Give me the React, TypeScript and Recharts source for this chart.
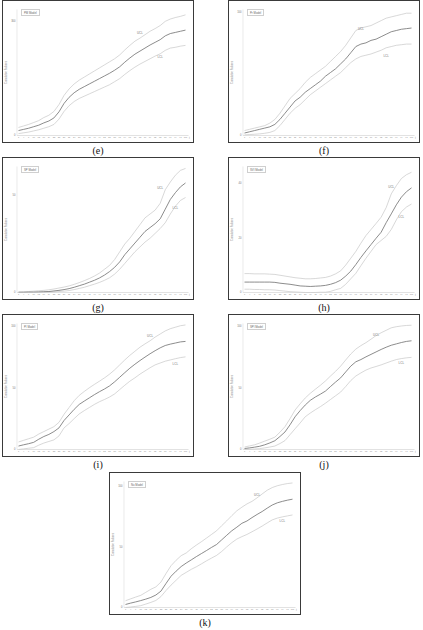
import React from 'react';
import { LineChart, Line, XAxis, YAxis, ReferenceDot } from 'recharts';

// sample index (x axis categories)
const xLabels = [1, 4, 7, 10, 13, 16, 19, 22, 25, 28, 31, 34, 37, 40, 43, 46, 49, 52, 55, 58, 61, 64, 67, 70, 73, 76, 79, 82, 85, 88, 91, 94, 97, 100];

// (e)
const eCenter = [13, 16, 19, 23, 27, 33, 38, 46, 62, 84, 100, 112, 121, 128, 135, 142, 149, 156, 163, 171, 180, 192, 203, 213, 221, 229, 237, 244, 251, 261, 267, 270, 273, 276];
const eUcl = [21, 25, 29, 34, 39, 47, 53, 63, 81, 105, 122, 135, 145, 153, 161, 169, 177, 185, 193, 201, 211, 224, 236, 247, 255, 264, 273, 280, 288, 299, 305, 309, 312, 316];
const eLcl = [5, 7, 9, 12, 15, 19, 23, 29, 43, 63, 78, 89, 97, 103, 109, 115, 121, 127, 133, 141, 149, 160, 170, 179, 187, 194, 201, 208, 214, 223, 229, 231, 234, 236];

// (f)
const fCenter = [2, 3, 4, 5, 6, 7, 9, 13, 18, 23, 28, 31, 35, 38, 41, 44, 48, 51, 54, 58, 62, 67, 72, 74, 75, 77, 78, 80, 82, 84, 85, 86, 86.5, 87];
const fUcl = [4, 5, 6, 7, 8, 10, 13, 18, 24, 30, 34, 38, 43, 47, 50, 53, 56, 60, 64, 68, 73, 79, 85, 87, 88, 89, 91, 93, 95, 96, 97, 98, 99, 99];
const fLcl = [0.5, 0.8, 1, 1.3, 1.8, 2.5, 4, 8, 13, 18, 22, 25, 29, 33, 36, 39, 42, 45, 48, 51, 55, 59, 62, 64, 65, 66, 67.5, 69, 71, 72, 73, 73.5, 74, 74];

// (g)
const gCenter = [0.1, 0.1, 0.2, 0.2, 0.3, 0.4, 0.5, 0.8, 1.1, 1.5, 2, 2.7, 3.5, 4.3, 5.3, 6.3, 7.5, 9, 10.8, 13, 15.8, 19.5, 22.5, 25.5, 28.5, 31.5, 33.5, 35.5, 38, 43, 48, 51.5, 54.5, 56.5];
const gUcl = [0.3, 0.4, 0.5, 0.7, 0.9, 1.1, 1.4, 1.8, 2.3, 2.8, 3.4, 4.2, 5.1, 6.1, 7.2, 8.5, 10, 12, 14, 17, 21, 25, 28, 31.5, 35, 38.5, 40.5, 42.5, 46, 53, 57, 60.5, 63, 64];
const gLcl = [0, 0, 0, 0, 0, 0.1, 0.2, 0.3, 0.5, 0.7, 1, 1.5, 2.1, 2.7, 3.5, 4.3, 5.2, 6.3, 7.6, 9.5, 12, 15, 18, 21, 23.5, 26, 28, 30.5, 33, 36, 40.5, 44.5, 47.5, 49];

// (h)
const hCenter = [3.8, 3.8, 3.8, 3.8, 3.8, 3.8, 3.7, 3.4, 3.2, 3.0, 2.7, 2.4, 2.3, 2.2, 2.3, 2.4, 2.6, 3.0, 3.6, 4.5, 6, 7.8, 10.2, 12.8, 15.2, 17.5, 19.8, 22, 25.5, 28.7, 32, 34.8, 36.8, 38.2];
const hUcl = [6.9, 6.9, 6.8, 6.8, 6.8, 6.7, 6.6, 6.3, 6.0, 5.7, 5.4, 5.2, 5.0, 5.0, 5.1, 5.3, 5.5, 6.0, 6.8, 7.9, 10, 12.5, 15, 18, 20.8, 23, 25.2, 27.5, 31, 36, 39, 41.6, 43, 43.9];
const hLcl = [1.2, 1.2, 1.1, 1.1, 1.0, 1.0, 0.9, 0.7, 0.5, 0.3, 0.2, 0.1, 0, 0, 0, 0.1, 0.1, 0.4, 1.0, 1.5, 3, 5, 7, 9.8, 12.5, 15, 17.5, 19, 20.5, 23, 26.5, 29.5, 31.2, 32.3];

// (i)
const iCenter = [2.8, 3.8, 4.7, 5.8, 8.3, 10.5, 12.2, 14.5, 17.5, 23.5, 28, 32.5, 36.5, 39.2, 41.8, 44.4, 46.8, 49, 51.5, 54.8, 58.5, 62.2, 65.8, 69, 72, 74.8, 77.5, 80, 82.3, 84.2, 85.3, 86.2, 87.1, 87.5];
const iUcl = [6.1, 7.4, 8.7, 10, 12.5, 14.5, 16.5, 18.5, 22, 28.5, 34, 39.5, 43.8, 47, 50, 52.7, 55.3, 58, 61, 64.5, 68.5, 72.5, 76.2, 79.5, 82.8, 85.5, 88, 91, 93.5, 96, 97.8, 99, 100.2, 100.8];
const iLcl = [0, 0.5, 1.0, 1.5, 3.5, 5.2, 6.5, 7.8, 11, 17.5, 21, 25, 28.8, 31.5, 34, 36.5, 38.7, 40.5, 42.5, 45, 48.5, 52, 55.3, 58, 61, 63.6, 66.2, 68.5, 70, 71.5, 72.5, 73.5, 74.4, 75];

// (j)
const jCenter = [0.8, 1.3, 1.9, 2.6, 3.8, 5.3, 7.1, 10.5, 14.2, 20, 26.5, 31.5, 36, 39.8, 42.5, 44.8, 47.3, 51, 54.6, 58, 62.8, 67.5, 71, 72.8, 75, 77, 79, 81, 82.8, 84.4, 85.5, 86.6, 87.5, 88];
const jUcl = [2, 2.9, 3.8, 5.2, 6.8, 8.3, 10, 14, 18.5, 25, 32, 37, 41.7, 45.5, 48.8, 52, 55.5, 59.5, 63.3, 67.5, 72.5, 77.3, 81.3, 84.1, 86.5, 89.3, 92.2, 94.5, 96.5, 98.5, 99.4, 100, 100.4, 100.6];
const jLcl = [0, 0.2, 0.4, 0.7, 1.3, 2, 2.8, 4.8, 7.2, 12, 16.8, 21.5, 26.5, 29.5, 32.2, 34.7, 37.5, 40.5, 43.5, 46.5, 51, 55.8, 59.5, 62, 64.3, 66, 67.2, 68.5, 70, 71.5, 72.8, 73.6, 74.2, 74.6];

// (k)
const kCenter = [2.5, 3.6, 4.6, 5.7, 6.9, 8.3, 10.3, 13.5, 19.8, 25.8, 30, 33.8, 36.7, 39.3, 42, 44.5, 47, 49.6, 52, 55.8, 59.6, 63.3, 66.3, 69.5, 71.4, 74.2, 76.8, 79.2, 82, 84.6, 86.4, 87.6, 88.6, 89.4];
const kUcl = [5.6, 7.1, 8.6, 10, 12.5, 15, 17, 21, 28, 34.5, 39, 42.8, 45, 48.5, 51.5, 54.3, 57.3, 60.3, 63.3, 67.5, 71.5, 75.8, 79.8, 82.8, 85.5, 87.6, 90.5, 93.7, 96.8, 99, 100.5, 101.5, 102.3, 102.8];
const kLcl = [0, 0.4, 0.9, 1.5, 2.8, 4.2, 5.8, 9, 14, 18.5, 22.5, 26.5, 29, 31.5, 33.6, 36, 38.5, 40.8, 43, 46.2, 50, 53.5, 56.5, 58.5, 60.3, 62.5, 64.8, 67.2, 69.8, 72.3, 73.8, 74.8, 75.6, 76.4];

const panels = [
  { id: 'e', name: 'PM Model', left: 2, top: 0, center: eCenter, ucl: eUcl, lcl: eLcl, max: 330, ticks: [0, 300], uclAt: [73, 269], lclAt: [85, 206] },
  { id: 'f', name: 'Pr Model', left: 228, top: 0, center: fCenter, ucl: fUcl, lcl: fLcl, max: 102, ticks: [0, 100], uclAt: [70, 86], lclAt: [85, 64.7] },
  { id: 'g', name: 'SP Model', left: 2, top: 157, center: gCenter, ucl: gUcl, lcl: gLcl, max: 65, ticks: [0, 50], uclAt: [85, 53.8], lclAt: [94, 43.7] },
  { id: 'h', name: 'SVI Model', left: 228, top: 157, center: hCenter, ucl: hUcl, lcl: hLcl, max: 46, ticks: [0, 20, 40], uclAt: [88, 38.4], lclAt: [94, 27.7] },
  { id: 'i', name: 'PI Model', left: 2, top: 314, center: iCenter, ucl: iUcl, lcl: iLcl, max: 102, ticks: [0, 50, 100], uclAt: [79, 91.7], lclAt: [94, 69.4] },
  { id: 'j', name: 'SPI Model', left: 228, top: 314, center: jCenter, ucl: jUcl, lcl: jLcl, max: 102, ticks: [0, 50, 100], uclAt: [79, 93], lclAt: [94, 69.8] },
  { id: 'k', name: 'Nu Model', left: 109, top: 472, center: kCenter, ucl: kUcl, lcl: kLcl, max: 104, ticks: [0, 50, 100], uclAt: [79, 92.8], lclAt: [94, 71.4] },
];

const W = 192;
const H = 143;

function Panel({ p }: { p: (typeof panels)[number] }) {
  const data = xLabels.map((x, i) => ({ x, center: p.center[i], ucl: p.ucl[i], lcl: p.lcl[i] }));
  return (
    <>
      <div
        style={{
          position: 'absolute',
          left: p.left,
          top: p.top,
          width: W,
          height: H,
          boxSizing: 'border-box',
          border: '1.5px solid #3a3a3a',
          background: '#fff',
        }}
      >
        <LineChart width={W - 3} height={H - 3} data={data} margin={{ top: 8.5, right: 3.5, left: 1, bottom: 0 }}>
          <XAxis
            dataKey="x"
            interval={0}
            height={5.5}
            tickLine={false}
            tickSize={0.5}
            tickMargin={0.5}
            padding={{ left: 1.5, right: 3 }}
            axisLine={{ stroke: '#cfcfcf', strokeWidth: 0.6 }}
            tick={{ fontSize: 2.2, fill: '#8a8a8a' }}
            label={{ value: 't', position: 'right', offset: 0.5, fontSize: 2.6, fill: '#888' }}
          />
          <YAxis
            domain={[0, p.max]}
            ticks={p.ticks}
            width={13}
            tickLine={false}
            tickSize={0.5}
            tickMargin={1}
            axisLine={{ stroke: '#dcdcdc', strokeWidth: 0.6 }}
            tick={{ fontSize: 2.6, fill: '#777' }}
            label={{
              value: 'Cumulative Failures',
              angle: -90,
              position: 'insideLeft',
              offset: 2.5,
              fontSize: 2.6,
              fill: '#888',
              style: { textAnchor: 'middle' },
            }}
          />
          <Line type="linear" dataKey="ucl" stroke="#bdbdbd" strokeWidth={0.6} dot={false} isAnimationActive={false} />
          <Line type="linear" dataKey="lcl" stroke="#bdbdbd" strokeWidth={0.6} dot={false} isAnimationActive={false} />
          <Line type="linear" dataKey="center" stroke="#6e6e6e" strokeWidth={0.8} dot={false} isAnimationActive={false} />
          <ReferenceDot
            x={p.uclAt[0]}
            y={p.uclAt[1]}
            r={0}
            stroke="none"
            label={{ value: 'UCL', position: 'center', fontSize: 3, fill: '#777' }}
          />
          <ReferenceDot
            x={p.lclAt[0]}
            y={p.lclAt[1]}
            r={0}
            stroke="none"
            label={{ value: 'LCL', position: 'center', fontSize: 3, fill: '#777' }}
          />
        </LineChart>
        <div
          style={{
            position: 'absolute',
            left: 18,
            top: 8,
            padding: '0.5px 2px',
            border: '0.6px solid #cfcfcf',
            fontSize: 2.8,
            lineHeight: '4px',
            color: '#666',
            background: '#fff',
            whiteSpace: 'nowrap',
          }}
        >
          {p.name}
        </div>
      </div>
      <div
        style={{
          position: 'absolute',
          left: p.left,
          top: p.top + H + 2,
          width: W,
          textAlign: 'center',
          fontFamily: '"Liberation Serif", serif',
          fontSize: 10,
          lineHeight: '12px',
          color: '#111',
        }}
      >
        ({p.id})
      </div>
    </>
  );
}

export default function App() {
  return (
    <div
      style={{
        position: 'absolute',
        left: 0,
        top: 0,
        width: 423,
        height: 630,
        background: '#fff',
        fontFamily: '"Liberation Sans", Arial, sans-serif',
        overflow: 'hidden',
      }}
    >
      {panels.map((p) => (
        <Panel key={p.id} p={p} />
      ))}
    </div>
  );
}
